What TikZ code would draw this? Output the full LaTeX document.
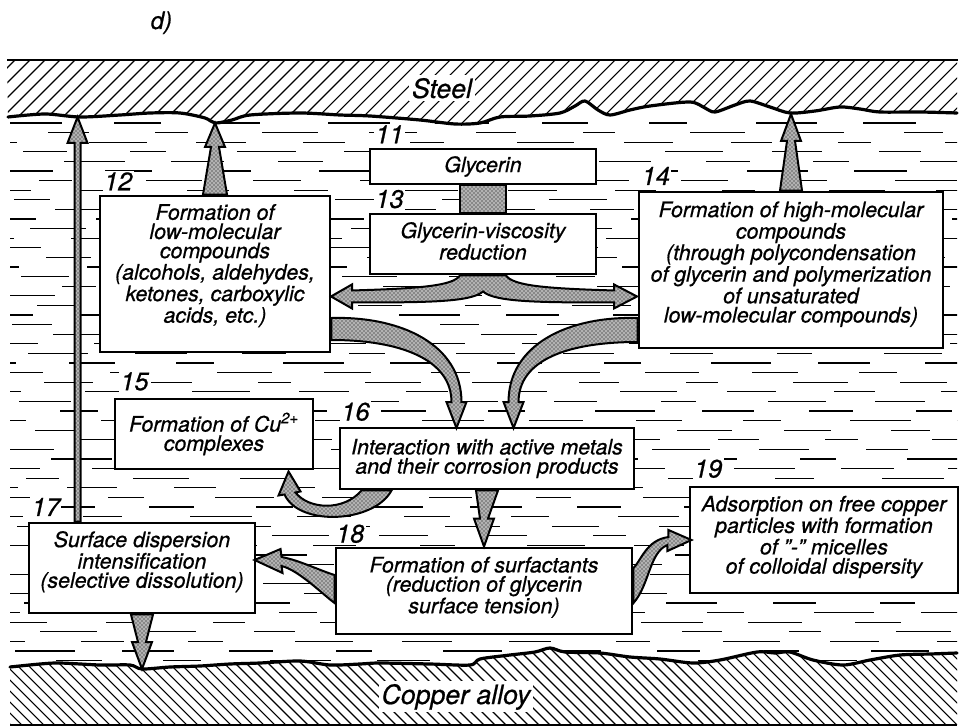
\documentclass[tikz,border=0pt]{standalone}
\usepackage{fontspec}
\setmainfont{TeX Gyre Heros}[ItalicFeatures={FakeBold=0.7}]
\usetikzlibrary{calc,positioning,patterns}

\tikzstyle{procbox} = [draw=black, fill=white, line width=2.2pt, rectangle, inner sep=0pt]
\tikzstyle{proctext} = [align=center, inner sep=0pt, font=\fontsize{16}{14.4}\selectfont\itshape]
\tikzstyle{numlabel} = [fill=white, inner sep=1pt, font=\fontsize{19}{19}\selectfont\itshape]
\tikzstyle{metal} = [fill=white, inner sep=2pt, font=\fontsize{20}{20}\selectfont\itshape]
\tikzstyle{fatarrow} = [draw=black, line width=1.5pt, line join=miter,
    preaction={fill=black!30}, pattern=crosshatch dots]
\tikzstyle{surface} = [line width=2.4pt, line join=round, line cap=round]
\tikzstyle{hatch} = [line width=0.8pt]
\tikzstyle{wave} = [line width=0.9pt]

% straight tapered arrow: #1 foot, #2 tip, #3 foot half width,
% #4 shaft half width at the head, #5 head half width, #6 head length (signed)
\newcommand{\vfat}[6]{%
    \filldraw[fatarrow] ($(#1)+(-#3,0)$) -- ($(#2)+(-#4,#6)$) -- ($(#2)+(-#5,#6)$) -- (#2)
        -- ($(#2)+(#5,#6)$) -- ($(#2)+(#4,#6)$) -- ($(#1)+(#3,0)$) -- cycle;}

\begin{document}
\begin{tikzpicture}[x=0.75pt, y=-0.75pt]
    \useasboundingbox (0,0) rectangle (962,727);

    \node[anchor=base west, font=\fontsize{18}{18}\selectfont\itshape] (panel) at (146,29) {d)};

    % liquid
    \begin{scope}
        \clip (10,118) rectangle (957,668);
        \foreach \r in {0,...,56} {
            \pgfmathsetmacro\yy{123+9.6*\r}
            \pgfmathsetmacro\off{mod(\r*41,107)}
            \foreach \k in {0,...,10} {
                \pgfmathsetmacro\xa{\off+107*\k-100}
                \pgfmathsetmacro\len{32+mod(\r*17+\k*23,31)}
                \draw[wave] (\xa,\yy) -- ++(\len,0);
            }
        }
    \end{scope}

    % steel
    \begin{scope}
        \clip (7,59) -- (957,59) -- (957,113) -- plot[smooth] coordinates {
            (957,113) (920,112) (880,112) (860,109) (840,107) (815,111) (790,113)
            (770,107) (750,101) (735,105) (715,112) (705,108) (690,102) (650,106)
            (630,110) (610,115) (598,110) (585,101) (575,106) (560,113) (530,116)
            (500,117) (480,123) (455,124) (420,120) (370,116) (340,115) (300,113)
            (250,115) (232,120) (215,123) (205,118) (180,113) (150,113) (120,115)
            (80,117) (45,114) (8,117)} -- cycle;
        \fill[white] (0,50) rectangle (962,130);
        \foreach \i in {0,...,70}
            \draw[hatch] (\i*15-70,130) -- (\i*15,60);
    \end{scope}
    \draw[line width=1.3pt] (7,60) -- (958,60);
    \draw[surface] plot[smooth] coordinates {
        (957,113) (920,112) (880,112) (860,109) (840,107) (815,111) (790,113)
        (770,107) (750,101) (735,105) (715,112) (705,108) (690,102) (650,106)
        (630,110) (610,115) (598,110) (585,101) (575,106) (560,113) (530,116)
        (500,117) (480,123) (455,124) (420,120) (370,116) (340,115) (300,113)
        (250,115) (232,120) (215,123) (205,118) (180,113) (150,113) (120,115)
        (80,117) (45,114) (8,117)};
    \node[metal, anchor=base] (steel) at (442,98) {Steel};

    % copper alloy
    \begin{scope}
        \clip plot[smooth] coordinates {
            (10,667) (40,664) (60,663) (100,665) (130,665) (142,669) (170,667)
            (200,666) (230,664) (260,663) (300,661) (330,665) (360,664) (380,663)
            (430,664) (470,665) (480,659) (510,655) (535,652) (550,648) (565,652)
            (600,653) (630,657) (660,659) (693,663) (720,660) (757,652) (775,653)
            (790,652) (813,660) (843,665) (870,660) (900,655) (930,654) (957,653)}
            -- (957,726) -- (10,726) -- cycle;
        \fill[white] (0,640) rectangle (962,727);
        \foreach \i in {0,...,95}
            \draw[hatch] (\i*11-80,645) -- (\i*11,725);
    \end{scope}
    \draw[line width=1.3pt] (10,725) -- (957,725);
    \draw[surface] plot[smooth] coordinates {
        (10,667) (40,664) (60,663) (100,665) (130,665) (142,669) (170,667)
        (200,666) (230,664) (260,663) (300,661) (330,665) (360,664) (380,663)
        (430,664) (470,665) (480,659) (510,655) (535,652) (550,648) (565,652)
        (600,653) (630,657) (660,659) (693,663) (720,660) (757,652) (775,653)
        (790,652) (813,660) (843,665) (870,660) (900,655) (930,654) (957,653)};
    \node[metal, anchor=base] (alloy) at (456,704) {Copper alloy};

    % process boxes
    \node[procbox, minimum width=169.5pt, minimum height=26.25pt] (box11) at (483,166.5) {};
    \node[procbox, minimum width=169.5pt, minimum height=45pt] (box13) at (483,244) {};
    \node[procbox, minimum width=172.5pt, minimum height=117pt] (box12) at (215,274) {};
    \node[procbox, minimum width=228pt, minimum height=117pt] (box14) at (791,270) {};
    \node[procbox, minimum width=148.5pt, minimum height=52.5pt] (box15) at (214,434) {};
    \node[procbox, minimum width=220.5pt, minimum height=45.75pt] (box16) at (487,458.5) {};
    \node[procbox, minimum width=169.5pt, minimum height=67.5pt] (box17) at (142,568) {};
    \node[procbox, minimum width=222pt, minimum height=64.5pt] (box18) at (484,591) {};
    \node[procbox, minimum width=201pt, minimum height=79.5pt] (box19) at (824,540) {};

    \node[proctext] at (box11) {Glycerin};
    \node[proctext, below=7pt of box13.north] {Glycerin-viscosity\\ reduction};
    \node[proctext, below=7pt of box12.north] {Formation of\\ low-molecular\\ compounds\\
        (alcohols, aldehydes,\\ ketones, carboxylic\\ acids, etc.)};
    \node[proctext, below=8pt of box14.north] {Formation of high-molecular\\ compounds\\
        (through polycondensation\\ of glycerin and polymerization\\ of unsaturated\\
        low-molecular compounds)};
    \node[proctext] at (box15) {Formation of Cu\textsuperscript{2+}\\ complexes};
    \node[proctext] at (box16) {Interaction with active metals\\ and their corrosion products};
    \node[proctext, below=7pt of box17.north] {Surface dispersion\\ intensification\\
        (selective dissolution)};
    \node[proctext, below=7.5pt of box18.north] {Formation of surfactants\\
        (reduction of glycerin\\ surface tension)};
    \node[proctext, below=7.5pt of box19.north] {Adsorption on free copper\\
        particles with formation\\ of "-" micelles\\ of colloidal dispersity};

    \node[numlabel, above right=2pt and 4pt of box11.north west] (n11) {11};
    \node[numlabel, above right=2pt and 3pt of box12.north west] (n12) {12};
    \node[numlabel, above right=2pt and 4pt of box13.north west] (n13) {13};
    \node[numlabel, above right=3pt and 2pt of box14.north west] (n14) {14};
    \node[numlabel, above right=4pt and 4pt of box15.north west] (n15) {15};
    \node[numlabel, above right=3pt and 1pt of box16.north west] (n16) {16};
    \node[numlabel, above right=3pt and 2pt of box17.north west] (n17) {17};
    \node[numlabel, above right=1.5pt and 0pt of box18.north west] (n18) {18};
    \node[numlabel, above right=4.5pt and 3pt of box19.north west] (n19) {19};

    % flows
    \filldraw[fatarrow] ($(box11.south)+(-23,0)$) rectangle ($(box13.north)+(23,0)$);

    \coordinate (foot17) at ($(box17.north west)+(50,0)$);
    \coordinate (steel17) at (foot17 |- 0,117);
    \coordinate (steel12) at (box12.north |- 0,123);
    \coordinate (steel14) at (box14.north |- 0,114);
    \coordinate (alloy17) at (box17.south |- 0,669);
    \vfat{foot17}{steel17}{3}{3}{10}{26}
    \vfat{box12.north}{steel12}{12}{4}{10}{24}
    \vfat{box14.north}{steel14}{11}{4}{10}{27}
    \vfat{box16.south}{box18.north}{11}{4}{10}{-28}
    \vfat{box17.south}{alloy17}{11}{4}{10}{-27}

    \filldraw[fatarrow, shift={(box13.south)}] (-23,0) .. controls (-30,10) and (-60,13) .. (-131,15)
        -- (-131,9) -- (-152,21) -- (-131,33) -- (-131,27)
        .. controls (-60,27) and (-12,27) .. (0,16) .. controls (12,27) and (60,27) .. (131,27)
        -- (131,33) -- (154,21) -- (131,9) -- (131,15)
        .. controls (60,13) and (30,10) .. (23,0) -- cycle;

    \filldraw[fatarrow, shift={(box12.east)}] (0,44) .. controls (70,42) and (130,71) .. (130,128)
        -- (135,128) -- (125,154) -- (115,128) -- (120,128)
        .. controls (120,86) and (70,66) .. (0,66) -- cycle;

    \filldraw[fatarrow, shift={(box14.west)}] (0,48) .. controls (-70,46) and (-129,75) .. (-129,132)
        -- (-134,132) -- (-124,158) -- (-114,132) -- (-119,132)
        .. controls (-119,90) and (-70,72) .. (0,72) -- cycle;

    \filldraw[fatarrow, shift={(box16.south west)}] (53,0) .. controls (35,33) and (-40,36) .. (-54,4)
        -- (-60,5) -- (-50,-19) -- (-38,1) -- (-43,2)
        .. controls (-30,19) and (5,21) .. (23,0) -- cycle;

    \filldraw[fatarrow, shift={(box18.west)}] (0,-16) .. controls (-16,-21) and (-36,-31) .. (-53,-34)
        -- (-54,-42) -- (-80,-31) -- (-52,-18) -- (-53,-25)
        .. controls (-36,-21) and (-11,4) .. (0,12) -- cycle;

    \filldraw[fatarrow, shift={(box18.east)}] (0,12) .. controls (16,-6) and (16,-39) .. (34,-46)
        -- (34,-40) -- (58,-51) -- (35,-61) -- (35,-54)
        .. controls (13,-51) and (8,-31) .. (0,-23) -- cycle;
\end{tikzpicture}
\end{document}
